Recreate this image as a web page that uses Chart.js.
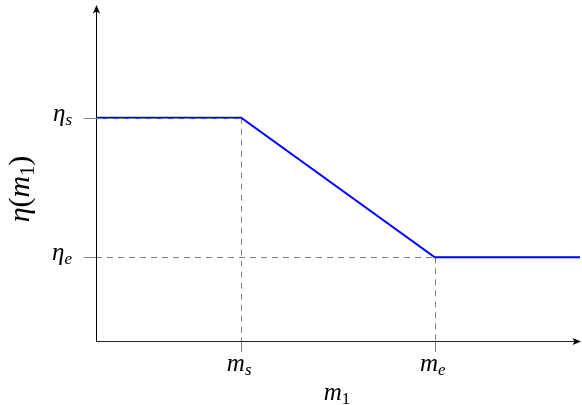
<!DOCTYPE html>
<html>
<head>
<meta charset="utf-8">
<script src="https://cdn.jsdelivr.net/npm/chart.js@4/dist/chart.umd.min.js"></script>
<style>
html,body{margin:0;padding:0;background:#fff;}
#c{display:block;}
</style>
</head>
<body>
<canvas id="c" width="582" height="405"></canvas>
<script>
// ---- data ----
const xValues = [0, 3, 7, 10];
const yValues = [8, 8, 3, 3];
const xTickValues = [3, 7];
const xTickLabels = [[['m', 'i'], ['s', 'si']], [['m', 'i'], ['e', 'si']]];
const yTickValues = [8, 3];
const yTickLabels = [[['η', 'i'], ['s', 'si']], [['η', 'i'], ['e', 'si']]];
const xTitle = [['m', 'i'], ['1', 'su']];
const yTitle = [['η', 'i'], ['(', 'u'], ['m', 'i'], ['1', 'su'], [')', 'u']];

const MAIN = 25, SUB = 17, SUBDY = 4;

function fontFor(kind, k) {
  const size = (kind.charAt(0) === 's' ? SUB : MAIN) * k;
  const ital = (kind === 'i' || kind === 'si');
  return (ital ? 'italic ' : '') + size + "px 'Liberation Serif'";
}
function drawMath(ctx, segs, x, y, align, k) {
  k = k || 1;
  ctx.save();
  ctx.textBaseline = 'alphabetic';
  ctx.textAlign = 'left';
  let w = 0;
  const widths = segs.map(s => { ctx.font = fontFor(s[1], k); const m = ctx.measureText(s[0]).width; w += m; return m; });
  let cx = align === 'right' ? x - w : (align === 'center' ? x - w / 2 : x);
  segs.forEach((s, i) => {
    ctx.font = fontFor(s[1], k);
    const dy = s[1].charAt(0) === 's' ? SUBDY * k : 0;
    ctx.fillStyle = '#000';
    ctx.fillText(s[0], cx, y + dy);
    cx += widths[i];
  });
  ctx.restore();
}

const decor = {
  id: 'decor',
  beforeDatasetsDraw(chart) {
    const ctx = chart.ctx, xs = chart.scales.x, ys = chart.scales.y;
    const x0 = xs.getPixelForValue(0), y0 = ys.getPixelForValue(0);
    const xEnd = xs.right + 1, yTop = ys.top - 1;
    ctx.save();
    ctx.strokeStyle = '#808080';
    ctx.lineWidth = 1;
    xTickValues.forEach(v => {
      const px = Math.round(xs.getPixelForValue(v)) + 0.5;
      ctx.beginPath(); ctx.moveTo(px, y0); ctx.lineTo(px, y0 + 11); ctx.stroke();
    });
    yTickValues.forEach(v => {
      const py = Math.round(ys.getPixelForValue(v)) + 0.5;
      ctx.beginPath(); ctx.moveTo(x0 - 12, py); ctx.lineTo(x0, py); ctx.stroke();
    });
    ctx.setLineDash([6, 5]);
    ctx.strokeStyle = '#808080';
    const pxs = xs.getPixelForValue(xTickValues[0]), pxe = xs.getPixelForValue(xTickValues[1]);
    const pys = ys.getPixelForValue(yTickValues[0]), pye = ys.getPixelForValue(yTickValues[1]);
    ctx.beginPath(); ctx.moveTo(Math.round(pxs) + 0.5, pys); ctx.lineTo(Math.round(pxs) + 0.5, y0); ctx.stroke();
    ctx.beginPath(); ctx.moveTo(Math.round(pxe) + 0.5, pye); ctx.lineTo(Math.round(pxe) + 0.5, y0); ctx.stroke();
    ctx.beginPath(); ctx.moveTo(x0, Math.round(pye) + 0.5); ctx.lineTo(pxe, Math.round(pye) + 0.5); ctx.stroke();
    ctx.setLineDash([]);
    ctx.strokeStyle = '#000';
    ctx.lineWidth = 1;
    ctx.beginPath(); ctx.moveTo(Math.round(x0) + 0.5, y0 + 0.5); ctx.lineTo(Math.round(x0) + 0.5, yTop + 3); ctx.stroke();
    ctx.strokeStyle = '#222';
    ctx.beginPath(); ctx.moveTo(x0, Math.round(y0) + 0.5); ctx.lineTo(xEnd - 3, Math.round(y0) + 0.5); ctx.stroke();
    ctx.fillStyle = '#000';
    const ax = Math.round(x0) + 0.5;
    ctx.beginPath();
    ctx.moveTo(ax, yTop); ctx.lineTo(ax - 3.6, yTop + 8.5); ctx.lineTo(ax, yTop + 6.5); ctx.lineTo(ax + 3.6, yTop + 8.5); ctx.closePath(); ctx.fill();
    const ay = Math.round(y0) + 0.5;
    ctx.beginPath();
    ctx.moveTo(xEnd, ay); ctx.lineTo(xEnd - 8.5, ay - 3.6); ctx.lineTo(xEnd - 6.5, ay); ctx.lineTo(xEnd - 8.5, ay + 3.6); ctx.closePath(); ctx.fill();
    ctx.restore();
  },
  afterDatasetsDraw(chart) {
    const ctx = chart.ctx, xs = chart.scales.x, ys = chart.scales.y;
    const x0 = xs.getPixelForValue(0), y0 = ys.getPixelForValue(0);
    const pxs = xs.getPixelForValue(xTickValues[0]);
    const pys = ys.getPixelForValue(yTickValues[0]);
    ctx.save();
    ctx.setLineDash([6, 5]);
    ctx.strokeStyle = '#808080';
    ctx.lineWidth = 1;
    ctx.beginPath(); ctx.moveTo(x0, Math.round(pys) + 0.5); ctx.lineTo(pxs, Math.round(pys) + 0.5); ctx.stroke();
    ctx.restore();
    xTickValues.forEach((v, i) => {
      drawMath(ctx, xTickLabels[i], xs.getPixelForValue(v) - 2, y0 + 30, 'center');
    });
    yTickValues.forEach((v, i) => {
      drawMath(ctx, yTickLabels[i], x0 - 24, ys.getPixelForValue(v) + 3, 'right');
    });
    drawMath(ctx, xTitle, (xs.left + xs.right) / 2 - 1, y0 + 59, 'center');
    ctx.save();
    ctx.translate(29, 189);
    ctx.rotate(-Math.PI / 2);
    drawMath(ctx, yTitle, 0, 0, 'center', 1.2);
    ctx.restore();
  }
};

new Chart(document.getElementById('c'), {
  type: 'line',
  data: {
    datasets: [{
      data: xValues.map((x, i) => ({ x: x, y: yValues[i] })),
      borderColor: '#0000ff',
      borderWidth: 2,
      pointRadius: 0,
      tension: 0,
      fill: false,
      clip: false
    }]
  },
  options: {
    responsive: false,
    animation: false,
    layout: { padding: { left: 96, right: 2, top: 6, bottom: 64 } },
    plugins: { legend: { display: false }, tooltip: { enabled: false } },
    scales: {
      x: { type: 'linear', min: 0, max: 10, display: false },
      y: { type: 'linear', min: 0, max: 12, display: false }
    }
  },
  plugins: [decor]
});
</script>
</body>
</html>
